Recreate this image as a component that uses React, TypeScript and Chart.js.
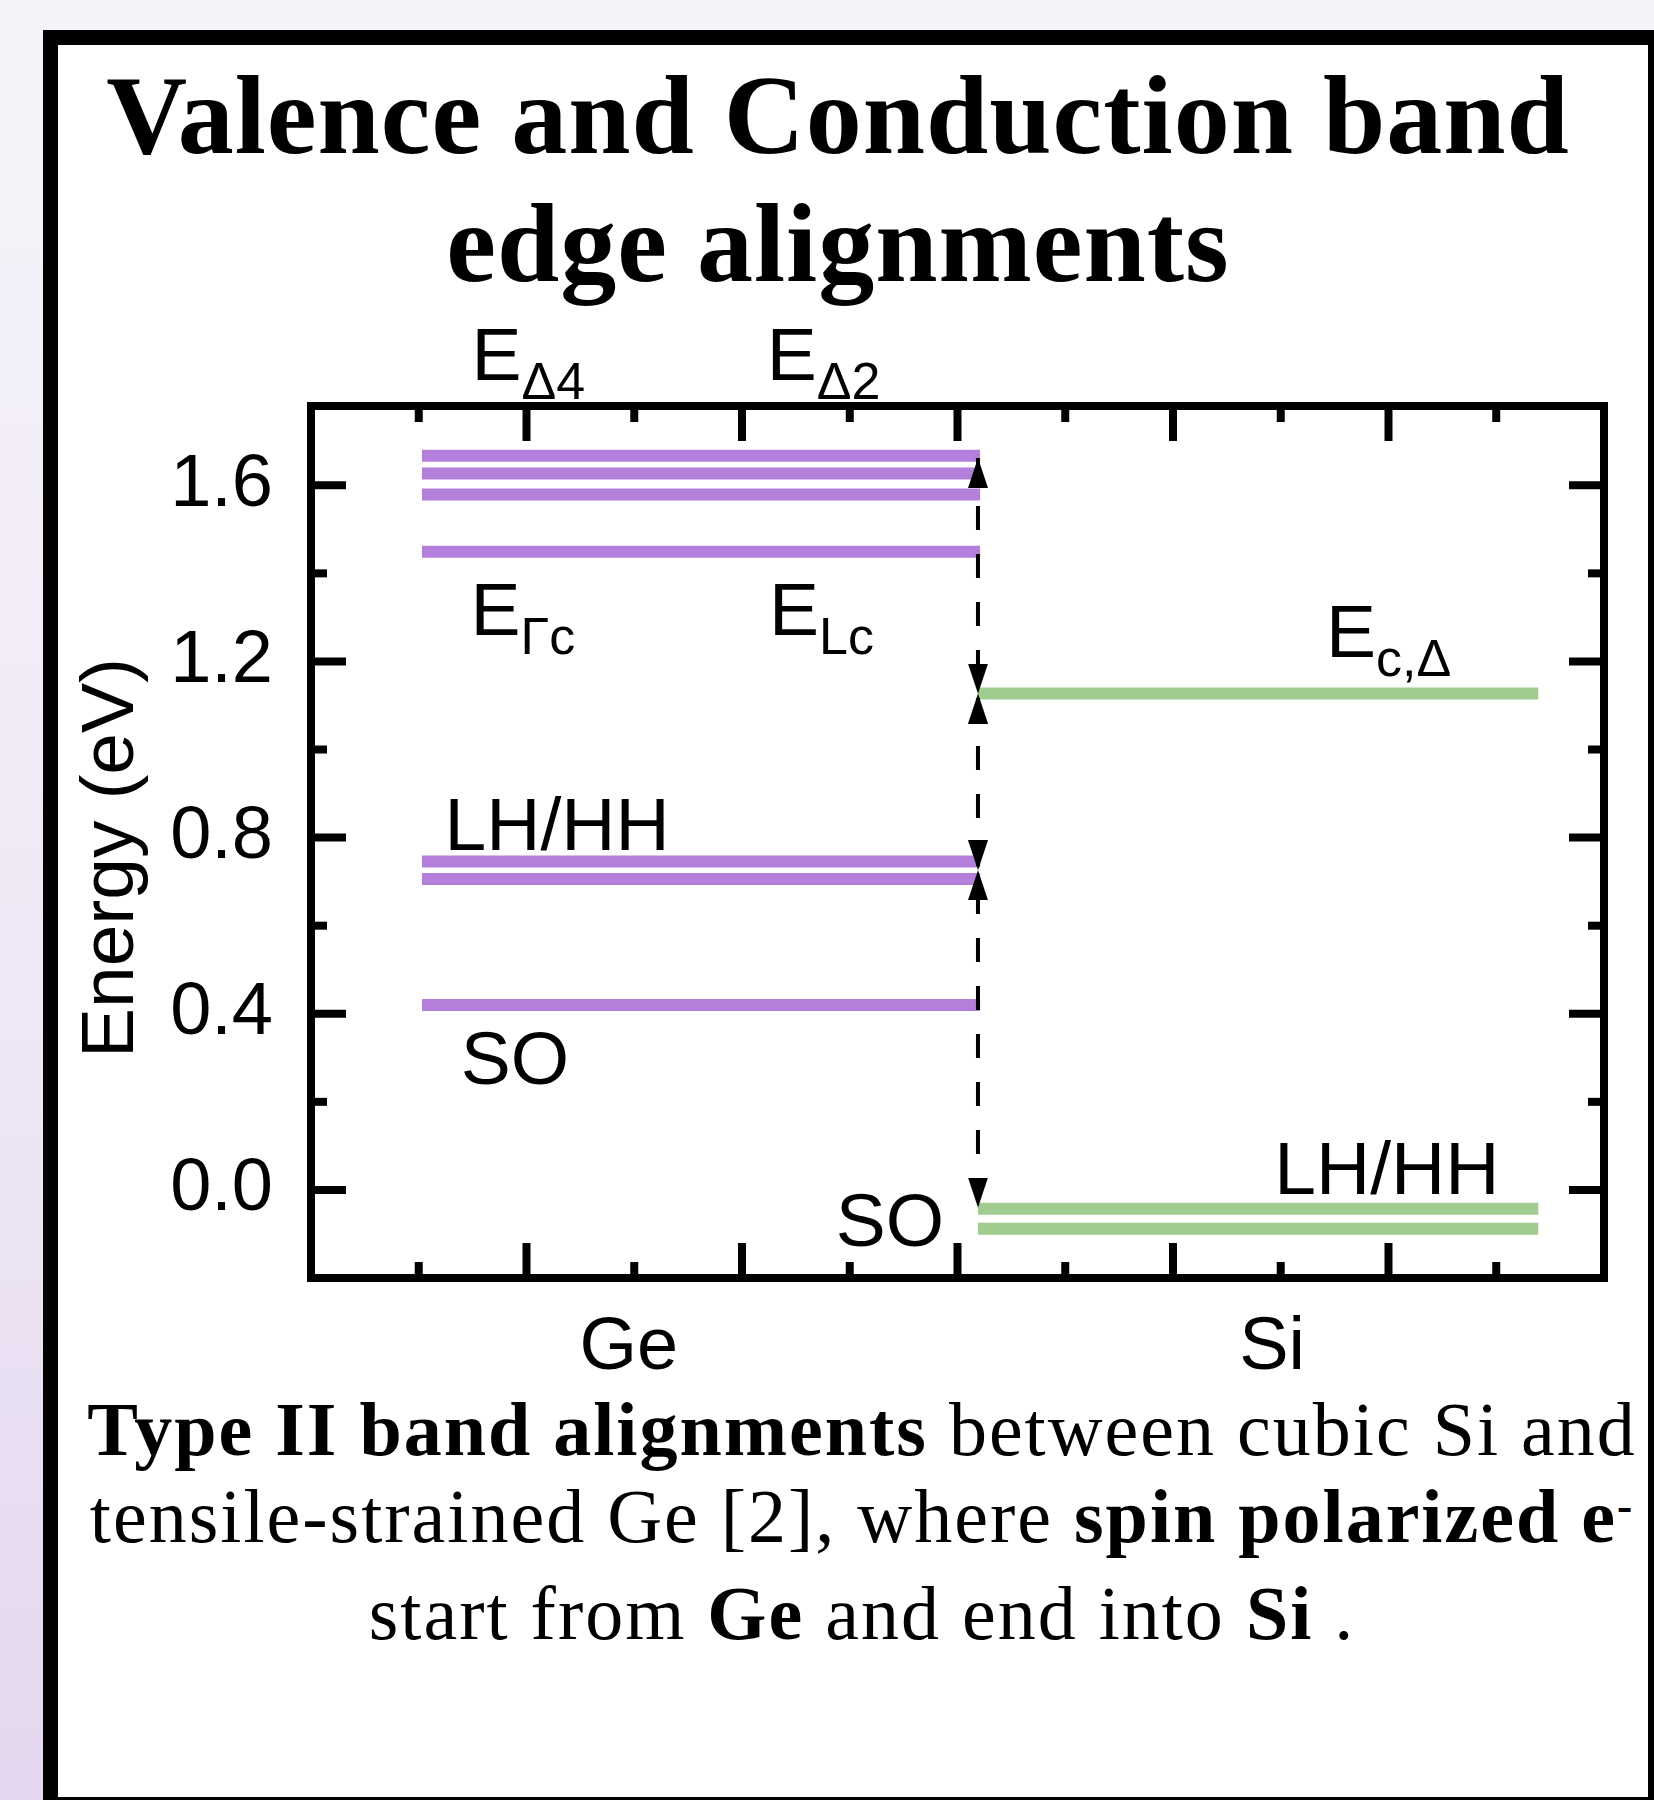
import React, { useEffect, useRef } from 'react';
import { Chart, registerables } from 'chart.js';

Chart.register(...registerables);

// ---- data ----
const categories = ['Ge', 'Si'];
const categoryPositions = [2.95, 8.92];
const yMajorTicks = [0, 0.4, 0.8, 1.2, 1.6];
const yMinorTicks = [0.2, 0.6, 1.0, 1.4];
const xMajorTicks = [2, 4, 6, 8, 10];
const xMinorTicks = [1, 3, 5, 7, 9, 11];

// band-edge energies (eV)
const geLevels = [1.667, 1.627, 1.579, 1.449, 0.746, 0.706, 0.42];
const geSpan = [1.03, 6.21];
const siLevels = [1.127, -0.043, -0.088];
const siSpan = [6.19, 11.39];

// transition arrows
const transitionX = 6.19;
const transitionRange = [1.662, -0.04];
const arrowUpTips = [1.662, 1.127, 0.726];
const arrowDownTips = [1.127, 0.726, -0.04];

// level annotations
const levelLabels = [
  { main: 'E', sub: 'Δ4', x: 1.49, y: 1.839 },
  { main: 'E', sub: 'Δ2', x: 4.23, y: 1.839 },
  { main: 'E', sub: 'Γc', x: 1.48, y: 1.261 },
  { main: 'E', sub: 'Lc', x: 4.25, y: 1.261 },
  { main: 'E', sub: 'c,Δ', x: 9.42, y: 1.211 },
  { main: 'LH/HH', sub: '', x: 1.24, y: 0.771 },
  { main: 'SO', sub: '', x: 1.39, y: 0.24 },
  { main: 'SO', sub: '', x: 4.87, y: -0.127 },
  { main: 'LH/HH', sub: '', x: 8.94, y: -0.009 },
];

const PURPLE = '#b47fdb';
const GREEN = '#a0cc90';
const SANS = '"Liberation Sans", Arial, sans-serif';
const SERIF = '"Liberation Serif", "Times New Roman", serif';

function makeArrow(up: boolean) {
  const c = document.createElement('canvas');
  c.width = 20;
  c.height = 60;
  const g = c.getContext('2d')!;
  g.fillStyle = '#000';
  g.beginPath();
  if (up) {
    g.moveTo(10, 30);
    g.lineTo(20, 60);
    g.lineTo(0, 60);
  } else {
    g.moveTo(10, 30);
    g.lineTo(0, 0);
    g.lineTo(20, 0);
  }
  g.closePath();
  g.fill();
  return c;
}

const framePlugin = {
  id: 'frameAndLabels',
  afterDatasetsDraw(chart: any) {
    const { ctx, chartArea: a, scales } = chart;
    const xs = scales.x;
    const ys = scales.y;
    ctx.save();
    ctx.strokeStyle = '#000';
    ctx.lineCap = 'butt';
    ctx.lineWidth = 8;
    const seg = (x1: number, y1: number, x2: number, y2: number) => {
      ctx.beginPath();
      ctx.moveTo(x1, y1);
      ctx.lineTo(x2, y2);
      ctx.stroke();
    };
    const xTick = (v: number, len: number) => {
      const p = xs.getPixelForValue(v);
      seg(p, a.bottom, p, a.bottom - len);
      seg(p, a.top, p, a.top + len);
    };
    const yTick = (v: number, len: number) => {
      const p = ys.getPixelForValue(v);
      seg(a.left, p, a.left + len, p);
      seg(a.right, p, a.right - len, p);
    };
    xMajorTicks.forEach((v) => xTick(v, 35));
    xMinorTicks.forEach((v) => xTick(v, 16));
    yMajorTicks.forEach((v) => yTick(v, 35));
    yMinorTicks.forEach((v) => yTick(v, 16));
    ctx.lineJoin = 'miter';
    ctx.strokeRect(a.left, a.top, a.right - a.left, a.bottom - a.top);

    // level labels
    ctx.fillStyle = '#000';
    ctx.textBaseline = 'alphabetic';
    ctx.textAlign = 'left';
    levelLabels.forEach((l) => {
      const px = xs.getPixelForValue(l.x);
      const py = ys.getPixelForValue(l.y);
      ctx.font = `75px ${SANS}`;
      ctx.fillText(l.main, px, py);
      if (l.sub) {
        const w = ctx.measureText(l.main).width;
        ctx.font = `52px ${SANS}`;
        ctx.fillText(l.sub, px + w, py + 19);
      }
    });

    // y axis title
    ctx.save();
    ctx.translate(112, (a.top + a.bottom) / 2 + 16);
    ctx.rotate(-Math.PI / 2);
    ctx.font = `75px ${SANS}`;
    ctx.textAlign = 'center';
    ctx.textBaseline = 'middle';
    ctx.fillText('Energy (eV)', 0, 0);
    ctx.restore();

    ctx.restore();
  },
};

function BandChart() {
  const ref = useRef<HTMLCanvasElement | null>(null);
  useEffect(() => {
    if (!ref.current) return;
    const upArrow = makeArrow(true);
    const downArrow = makeArrow(false);
    const levelDataset = (e: number, span: number[], color: string) => ({
      data: [
        { x: span[0], y: e },
        { x: span[1], y: e },
      ],
      showLine: true,
      borderColor: color,
      borderWidth: 12,
      borderCapStyle: 'butt',
      pointRadius: 0,
      pointHoverRadius: 0,
      fill: false,
    });
    const datasets: any[] = [
      {
        data: arrowUpTips.map((y) => ({ x: transitionX, y })),
        pointStyle: upArrow,
        pointRadius: 10,
        showLine: false,
      },
      {
        data: arrowDownTips.map((y) => ({ x: transitionX, y })),
        pointStyle: downArrow,
        pointRadius: 10,
        showLine: false,
      },
      {
        data: transitionRange.map((y) => ({ x: transitionX, y })),
        showLine: true,
        borderColor: '#000',
        borderWidth: 4,
        borderDash: [24, 24],
        pointRadius: 0,
      },
      ...geLevels.map((e) => levelDataset(e, geSpan, PURPLE)),
      ...siLevels.map((e) => levelDataset(e, siSpan, GREEN)),
    ];
    const chart = new Chart(ref.current, {
      type: 'scatter',
      data: { datasets },
      options: {
        animation: false,
        responsive: false,
        devicePixelRatio: 1,
        events: [],
        layout: { padding: { left: 0, right: 50, top: 406, bottom: 422 } },
        plugins: { legend: { display: false }, tooltip: { enabled: false } },
        scales: {
          x: {
            type: 'linear',
            min: 0,
            max: 12,
            grid: { display: false, drawTicks: false },
            border: { display: false },
            afterBuildTicks: (s: any) => {
              s.ticks = categoryPositions.map((v) => ({ value: v }));
            },
            afterFit: (s: any) => {
              s.height = 100;
            },
            ticks: {
              autoSkip: false,
              maxRotation: 0,
              padding: 26,
              color: '#000',
              font: { family: SANS, size: 74 },
              callback: (_v: any, i: number) => categories[i],
            },
          },
          y: {
            type: 'linear',
            min: -0.2,
            max: 1.78,
            grid: { display: false, drawTicks: false },
            border: { display: false },
            afterBuildTicks: (s: any) => {
              s.ticks = yMajorTicks.map((v) => ({ value: v }));
            },
            afterFit: (s: any) => {
              s.width = 311;
            },
            ticks: {
              padding: 38,
              color: '#000',
              font: { family: SANS, size: 74 },
              callback: (v: any) => Number(v).toFixed(1),
            },
          },
        },
      } as any,
      plugins: [framePlugin],
    });
    return () => chart.destroy();
  }, []);
  return (
    <canvas
      ref={ref}
      width={1654}
      height={1800}
      style={{ position: 'absolute', left: 0, top: 0, width: 1654, height: 1800 }}
    />
  );
}

export default function App() {
  return (
    <div
      style={{
        position: 'absolute',
        left: 0,
        top: 0,
        width: 1654,
        height: 1800,
        overflow: 'hidden',
        background: 'linear-gradient(180deg, #f6f4fa 0%, #efe8f6 55%, #e4d7ef 100%)',
      }}
    >
      <div
        style={{
          position: 'absolute',
          left: 43,
          top: 30,
          width: 1620,
          height: 1782,
          boxSizing: 'border-box',
          border: '15px solid #000',
          background: '#fff',
        }}
      />
      <div
        style={{
          position: 'absolute',
          left: 0,
          top: 51,
          width: 1676,
          textAlign: 'center',
          fontFamily: SERIF,
          fontWeight: 'bold',
          fontSize: 112,
          letterSpacing: '1px',
          lineHeight: '128px',
          color: '#000',
          whiteSpace: 'nowrap',
        }}
      >
        Valence and Conduction band
        <br />
        edge alignments
      </div>
      <div
        style={{
          position: 'absolute',
          left: 0,
          top: 1386,
          width: 1724,
          textAlign: 'center',
          fontFamily: SERIF,
          fontSize: 76,
          letterSpacing: '2px',
          lineHeight: '87px',
          color: '#000',
          whiteSpace: 'nowrap',
        }}
      >
        <b>Type II band alignments</b> between cubic Si and
        <br />
        tensile-strained Ge [2], where <b>spin polarized e</b>
        <span style={{ position: 'relative', top: '-0.45em', fontSize: '0.6em', fontWeight: 'bold' }}>-</span>
        <br />
        start from <b>Ge</b> and end into <b>Si</b> .
      </div>
      <BandChart />
    </div>
  );
}
